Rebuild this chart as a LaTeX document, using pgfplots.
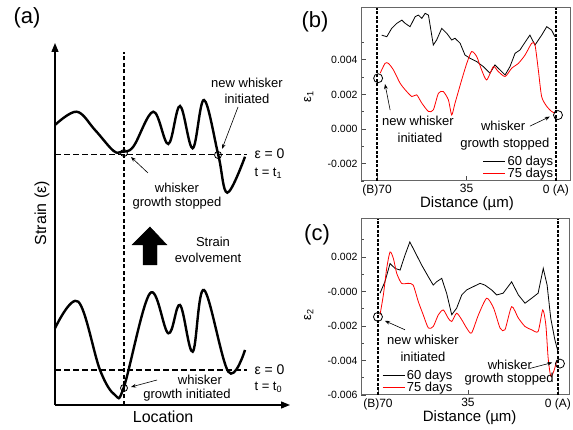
\documentclass[border=0pt]{standalone}
\usepackage{fontspec}
\setmainfont{Liberation Sans}
\usepackage{pgfplots}
\pgfplotsset{compat=1.18}
\usetikzlibrary{arrows.meta}
\newcommand{\fs}[1]{\fontsize{#1}{#1}\selectfont}
\pgfplotsset{
  panel/.style={
    scale only axis, clip=false, x dir=reverse,
    xtick={70,35,0}, xticklabels={(B)70,35,0 (A)},
    tick align=inside, tick pos=left,
    major tick length=5pt, minor tick length=3pt,
    axis line style={black!60, line width=1pt},
    every tick/.style={black!70, line width=0.8pt},
    scaled y ticks=false,
    xticklabel style={font=\fs{12}},
    yticklabel style={font=\fs{10.5}},
    xlabel={Distance (µm)},
    legend cell align=left,
  },
  blk/.style={black, line width=0.8pt,
    legend image code/.code={\draw[draw=black, line width=0.8pt] (0pt,0pt) -- (22pt,0pt);}},
  rd/.style={red, line width=0.8pt, smooth, tension=0.4,
    legend image code/.code={\draw[draw=red, color=red, line width=0.8pt] (0pt,0pt) -- (22pt,0pt);}},
  vdash/.style={black, line width=1.5pt, dash pattern=on 3pt off 1.5pt, forget plot},
  circ/.style={only marks, mark=o, mark size=4.5pt, mark options={line width=0.8pt, black}, forget plot},
}
\begin{document}
\begin{tikzpicture}[x=1pt,y=1pt]
\useasboundingbox (0pt,0pt) rectangle (573pt,430pt);

% ---------------- panel (a) ----------------
\begin{axis}[at={(55pt,25pt)}, anchor=south west, scale only axis,
  width=235pt, height=362pt, xmin=0, xmax=235, ymin=0, ymax=362,
  axis lines=left, clip=false,
  axis line style={line width=1.3pt, -{Triangle[width=7pt,length=9pt]}},
  xtick=\empty, ytick=\empty,
  xlabel={Location}, ylabel={Strain (ε)},
  xlabel style={font=\fs{16}, at={(axis description cs:0.46,-0.033)}, anchor=center},
  ylabel style={font=\fs{16}, at={(axis description cs:-0.055,0.53)}, anchor=center},
]
\addplot[black, line width=1.2pt, dash pattern=on 4pt off 2.5pt] coordinates {(69,0) (69,353)};
\addplot[black, line width=1.3pt, dash pattern=on 6pt off 3pt] coordinates {(0,250.7) (192,250.7)};
\addplot[black, line width=1.3pt, dash pattern=on 6pt off 3pt] coordinates {(0,35) (192,35)};
\addplot[black, line width=2.4pt, smooth, tension=0.6] coordinates {
 (0,280) (21.7,293.3) (40,275) (58.3,254.3) (66.7,253.3) (78.3,258.3) (98.3,293.3)
 (113.3,261) (125,299) (137.7,256.7) (149,305) (163.3,250) (172.3,212.3) (190,248.3)};
\addplot[black, line width=2.4pt, smooth, tension=0.6] coordinates {
 (0,76.7) (23.3,103.3) (45,35) (60,10) (69,18.3) (95,111.7) (113.3,71.7) (125,100)
 (137.7,53.3) (149,115) (173.3,33.3) (190,55)};
\addplot[only marks, mark=o, mark size=3.5pt, mark options={line width=0.8pt, black}] coordinates {(69,252) (163,250) (69,17)};
\addplot[fill=black, draw=black] coordinates {(88,140) (102,140) (102,160) (112,160) (95,178) (77,160) (88,160)} -- cycle;
\node[font=\fs{13}] at (axis cs:192,322) {new whisker};
\node[font=\fs{13}] at (axis cs:192,306) {initiated};
\draw[-{Stealth[length=5pt]}, line width=0.6pt] (axis cs:183,298) -- (axis cs:167,256);
\node[font=\fs{14}, anchor=west] at (axis cs:196,251) {ε = 0};
\node[font=\fs{13}, anchor=west] at (axis cs:196,232) {t = t\textsubscript{1}};
\node[font=\fs{13}] at (axis cs:122,217) {whisker};
\node[font=\fs{13}] at (axis cs:122,202) {growth stopped};
\draw[-{Stealth[length=5pt]}, line width=0.6pt] (axis cs:93,232) -- (axis cs:76,248);
\node[font=\fs{13}] at (axis cs:158,163) {Strain};
\node[font=\fs{13}] at (axis cs:153,147) {evolvement};
\node[font=\fs{14}, anchor=west] at (axis cs:196,35) {ε = 0};
\node[font=\fs{13}, anchor=west] at (axis cs:196,18) {t = t\textsubscript{0}};
\node[font=\fs{13}] at (axis cs:145,25) {whisker};
\node[font=\fs{13}] at (axis cs:132,10) {growth initiated};
\draw[-{Stealth[length=5pt]}, line width=0.6pt] (axis cs:102,25) -- (axis cs:76,18);
\end{axis}
\node[font=\fs{22}] at (27pt,412pt) {(a)};

% ---------------- panel (b) ----------------
\begin{axis}[panel, at={(361pt,249pt)}, anchor=south west,
  width=209pt, height=173pt, xmin=-5.5, xmax=76.3, ymin=-0.003, ymax=0.007,
  ytick={-0.002,0,0.002,0.004}, yticklabels={-0.002,0.000,0.002,0.004},
  minor ytick={-0.003,-0.001,0.001,0.003,0.005},
  ylabel={ε\textsubscript{1}},
  xlabel style={font=\fs{15}, at={(axis description cs:0.507,-0.128)}, anchor=center},
  ylabel style={font=\fs{13}, at={(axis description cs:-0.25,0.486)}, anchor=center},
  legend style={at={(axis description cs:0.93,0.0)}, anchor=south east, draw=none, fill=none,
    font=\fs{13}, inner sep=0pt, row sep=-3pt},
]
\addplot[blk] coordinates {
 (68.2,0.00543) (66.2,0.00534) (64.3,0.00582) (62.3,0.00611) (60.3,0.00630) (59.0,0.00611)
 (57.1,0.00592) (55.1,0.00650) (53.8,0.00659) (52.5,0.00640) (51.2,0.00669) (49.9,0.00659)
 (48.0,0.00486) (46.7,0.00515) (44.7,0.00582) (42.7,0.00553) (40.8,0.00515) (39.5,0.00525)
 (37.5,0.00496) (35.6,0.00428) (33.6,0.00409) (31.0,0.00390) (28.4,0.00361) (25.8,0.00323)
 (23.9,0.00371) (21.9,0.00342) (19.9,0.00313) (18.0,0.00361) (16.0,0.00438) (14.1,0.00457)
 (11.5,0.00515) (10.2,0.00543) (8.2,0.00486) (5.6,0.00543) (3.6,0.00592) (1.7,0.00572) (0.4,0.00534)};
\addlegendentry{60 days}
\addplot[rd] coordinates {
 (68.8,0.00323) (66.9,0.00380) (65.6,0.00380) (63.6,0.00342) (61.0,0.00265) (59.0,0.00227)
 (56.4,0.00188) (54.5,0.00198) (52.5,0.00150) (49.9,0.00102) (48.0,0.00111) (46.0,0.00207)
 (44.1,0.00217) (42.1,0.00169) (40.8,0.00082) (39.5,0.00150) (36.9,0.00284) (34.9,0.00380)
 (33.0,0.00448) (31.0,0.00419) (29.1,0.00342) (27.1,0.00284) (24.5,0.00361) (22.6,0.00333)
 (19.9,0.00304) (17.3,0.00352) (14.7,0.00380) (12.1,0.00428) (9.5,0.00496) (8.2,0.00486)
 (6.9,0.00342) (5.6,0.00188) (3.6,0.00131) (1.7,0.00102) (0.4,0.00092)};
\addlegendentry{75 days}
\addplot[vdash] coordinates {(70,-0.003) (70,0.007)};
\addplot[vdash] coordinates {(0,-0.003) (0,0.007)};
\addplot[circ] coordinates {(69.6,0.00294) (-0.8,0.00081)};
\node[font=\fs{13}] at (axis cs:54,0.00046) {new whisker};
\node[font=\fs{13}] at (axis cs:53.2,-0.00052) {initiated};
\draw[-{Stealth[length=5pt]}, line width=0.6pt] (axis cs:64.9,0.0011) -- (axis cs:66.9,0.0026);
\node[font=\fs{13}] at (axis cs:20.7,0.00017) {whisker};
\node[font=\fs{13}] at (axis cs:20.0,-0.00086) {growth stopped};
\draw[-{Stealth[length=5pt]}, line width=0.6pt] (axis cs:10.2,0.00017) -- (axis cs:2.4,0.00072);
\end{axis}
\node[font=\fs{22}] at (315pt,408pt) {(b)};

% ---------------- panel (c) ----------------
\begin{axis}[panel, at={(361pt,35pt)}, anchor=south west,
  width=209pt, height=176pt, xmin=-4.7, xmax=76.6, ymin=-0.006, ymax=0.0042,
  ytick={-0.006,-0.004,-0.002,0,0.002}, yticklabels={-0.006,-0.004,-0.002,-0.000,0.002},
  minor ytick={-0.005,-0.003,-0.001,0.001,0.003},
  ylabel={ε\textsubscript{2}},
  xlabel style={font=\fs{15}, at={(axis description cs:0.52,-0.128)}, anchor=center},
  ylabel style={font=\fs{13}, at={(axis description cs:-0.25,0.455)}, anchor=center},
  legend style={at={(axis description cs:0.1,0.0)}, anchor=south west, draw=none, fill=none,
    font=\fs{13}, inner sep=0pt, row sep=-3pt},
]
\addplot[blk] coordinates {
 (69.2,-0.00010) (67.3,0.00056) (65.3,0.00162) (63.4,0.00134) (61.4,0.00124) (59.5,0.00210)
 (57.6,0.00287) (55.6,0.00229) (53.0,0.00153) (50.4,0.00085) (48.5,0.00037) (47.2,0.00056)
 (45.2,0.00076) (43.3,-0.00010) (41.3,-0.00135) (39.4,-0.00097) (37.4,-0.00020) (35.5,0.00009)
 (32.9,0.00028) (30.3,0.00047) (28.4,0.00037) (25.8,0.00009) (23.8,-0.00020) (21.3,-0.00010)
 (18.0,0.00056) (15.4,-0.00020) (12.8,-0.00068) (10.2,-0.00039) (7.7,-0.00010) (5.7,0.00134)
 (4.2,0.00037) (2.8,-0.00154) (1.2,-0.00279) (0.0,-0.00347)};
\addlegendentry{60 days}
\addplot[rd] coordinates {
 (69.2,-0.00135) (67.9,-0.00020) (66.6,0.00134) (65.3,0.00229) (64.0,0.00191) (62.7,0.00105)
 (60.8,0.00047) (58.2,0.00047) (56.3,0.00037) (54.3,-0.00059) (52.4,-0.00135) (50.4,-0.00212)
 (48.5,-0.00203) (46.5,-0.00135) (44.6,-0.00107) (42.7,-0.00154) (41.3,-0.00174) (39.4,-0.00126)
 (37.4,-0.00164) (35.5,-0.00212) (33.6,-0.00241) (30.9,-0.00135) (27.7,-0.00039) (25.0,-0.00097)
 (22.5,-0.00212) (20.6,-0.00222) (18.0,-0.00088) (15.4,-0.00154) (12.8,-0.00203) (10.2,-0.00222)
 (7.7,-0.00232) (5.9,-0.00107) (4.7,-0.00193) (3.8,-0.00385) (2.8,-0.00491) (1.6,-0.00462) (0.5,-0.00404)};
\addlegendentry{75 days}
\addplot[vdash] coordinates {(70,-0.006) (70,0.0042)};
\addplot[vdash] coordinates {(0,-0.006) (0,0.0042)};
\addplot[circ] coordinates {(70,-0.00147) (-0.8,-0.00418)};
\node[font=\fs{13}] at (axis cs:52.5,-0.00279) {new whisker};
\node[font=\fs{13}] at (axis cs:52.5,-0.00377) {initiated};
\draw[-{Stealth[length=5pt]}, line width=0.6pt] (axis cs:59.5,-0.00222) -- (axis cs:67.3,-0.00170);
\node[font=\fs{13}] at (axis cs:18.7,-0.00423) {whisker};
\node[font=\fs{13}] at (axis cs:19.0,-0.0051) {growth stopped};
\draw[-{Stealth[length=5pt]}, line width=0.6pt] (axis cs:10.9,-0.00446) -- (axis cs:2.2,-0.00412);
\end{axis}
\node[font=\fs{22}] at (317pt,195pt) {(c)};
\end{tikzpicture}
\end{document}
